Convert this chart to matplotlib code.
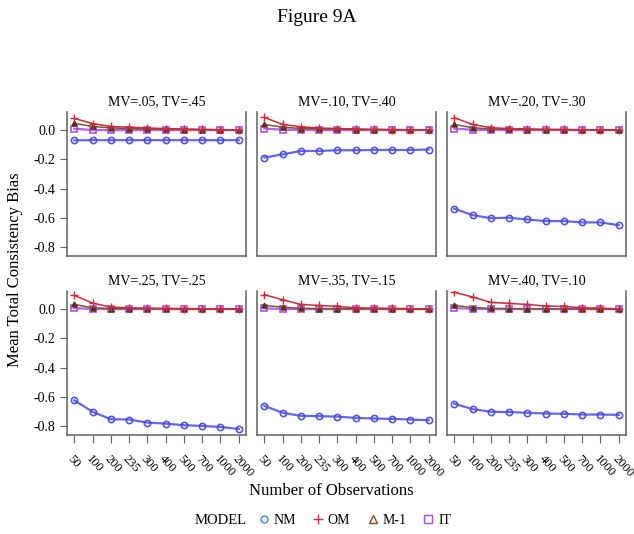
import numpy as np
import matplotlib.pyplot as plt
from matplotlib.lines import Line2D
from matplotlib.offsetbox import HPacker

plt.rcParams['font.family'] = ['Liberation Serif', 'DejaVu Serif']

obs = ["50", "100", "200", "235", "300", "400", "500", "700", "1000", "2000"]
panels = ["MV=.05, TV=.45", "MV=.10, TV=.40", "MV=.20, TV=.30",
          "MV=.25, TV=.25", "MV=.35, TV=.15", "MV=.40, TV=.10"]

nm = [
    [-0.070, -0.069, -0.069, -0.069, -0.069, -0.069, -0.069, -0.069, -0.069, -0.069],
    [-0.188, -0.166, -0.143, -0.143, -0.138, -0.138, -0.136, -0.136, -0.136, -0.133],
    [-0.538, -0.582, -0.603, -0.600, -0.612, -0.623, -0.623, -0.632, -0.632, -0.651],
    [-0.625, -0.703, -0.754, -0.756, -0.777, -0.784, -0.795, -0.800, -0.807, -0.821],
    [-0.662, -0.710, -0.731, -0.733, -0.736, -0.745, -0.749, -0.752, -0.756, -0.761],
    [-0.648, -0.685, -0.703, -0.705, -0.710, -0.715, -0.717, -0.722, -0.722, -0.724],
]
om = [
    [0.080, 0.045, 0.025, 0.020, 0.015, 0.010, 0.008, 0.005, 0.003, 0.002],
    [0.087, 0.039, 0.023, 0.014, 0.011, 0.008, 0.006, 0.004, 0.003, 0.002],
    [0.085, 0.039, 0.016, 0.011, 0.008, 0.006, 0.005, 0.003, 0.002, 0.001],
    [0.094, 0.041, 0.014, 0.009, 0.007, 0.005, 0.004, 0.003, 0.002, 0.001],
    [0.099, 0.064, 0.032, 0.025, 0.018, 0.009, 0.007, 0.005, 0.003, 0.001],
    [0.115, 0.083, 0.046, 0.039, 0.032, 0.021, 0.018, 0.009, 0.007, 0.001],
]
m1 = [
    [0.046, 0.025, 0.015, 0.010, 0.008, 0.006, 0.004, 0.003, 0.002, 0.001],
    [0.039, 0.020, 0.011, 0.008, 0.006, 0.004, 0.003, 0.002, 0.001, 0.001],
    [0.039, 0.016, 0.008, 0.006, 0.004, 0.003, 0.002, 0.002, 0.001, 0.001],
    [0.032, 0.009, 0.004, 0.003, 0.002, 0.002, 0.001, 0.001, 0.001, 0.000],
    [0.025, 0.014, 0.005, 0.004, 0.003, 0.002, 0.002, 0.001, 0.001, 0.000],
    [0.025, 0.011, 0.005, 0.004, 0.003, 0.002, 0.002, 0.001, 0.001, 0.000],
]
it = [
    [0.010, 0.000, 0.000, 0.000, 0.000, 0.000, 0.000, 0.000, 0.000, 0.000],
    [0.011, 0.002, 0.001, 0.000, 0.000, 0.000, 0.000, 0.000, 0.000, 0.000],
    [0.011, 0.002, 0.001, 0.000, 0.000, 0.000, 0.000, 0.000, 0.000, 0.000],
    [0.007, 0.001, 0.000, 0.000, 0.000, 0.000, 0.000, 0.000, 0.000, 0.000],
    [0.005, 0.001, 0.000, 0.000, 0.000, 0.000, 0.000, 0.000, 0.000, 0.000],
    [0.007, 0.002, 0.000, 0.000, 0.000, 0.000, 0.000, 0.000, 0.000, 0.000],
]

W, H = 634, 534
fig = plt.figure(figsize=(W / 100, H / 100), dpi=100)

# panel boxes in pixels
col_left = [67, 257, 447]
row_top = [112, 291]
pw, ph = 179, 144

x = np.arange(len(obs))
spine_col = "#606060"

for i in range(6):
    r, c = divmod(i, 3)
    ax = fig.add_axes([col_left[c] / W, 1 - (row_top[r] + ph) / H, pw / W, ph / H])
    ax.plot(x, nm[i], color="#5555ee", lw=1.6, marker="o", ms=4.5,
            mfc="none", mec="#4444dd", mew=1.2, alpha=0.9)
    ax.plot(x, it[i], color="#b050e8", lw=1.6, marker="s", ms=4.5,
            mfc="none", mec="#a040d8", mew=1.2, alpha=0.9)
    ax.plot(x, m1[i], color="#7a5a2a", lw=1.1, marker="^", ms=3.5,
            mfc="#5a3010", mec="#5a3010")
    ax.plot(x, om[i], color="#cc2a3a", lw=1.1, marker="+", ms=5.5, mew=1.0)
    ax.set_xlim(-0.4, 9.4)
    ax.set_ylim(-0.862, 0.124)
    ax.set_title(panels[i], fontsize=10, pad=5)
    for s in ["left", "right", "bottom"]:
        ax.spines[s].set_color(spine_col)
        ax.spines[s].set_linewidth(1.1)
    ax.spines["top"].set_visible(False)
    ax.tick_params(colors="black", labelsize=10, length=5, color=spine_col)
    if c == 0:
        ax.set_yticks([0.0, -0.2, -0.4, -0.6, -0.8])
        ax.set_yticklabels(["0.0", "-0.2", "-0.4", "-0.6", "-0.8"])
    else:
        ax.set_yticks([])
    if r == 1:
        ax.set_xticks(x)
        ax.set_xticklabels(obs, rotation=-48, ha="left", va="top",
                           rotation_mode="anchor", fontsize=9)
        ax.tick_params(axis="x", length=6, pad=7)
    else:
        ax.set_xticks([])

fig.text(0.5, 1 - 18 / H, "Figure 9A", ha="center", va="center", fontsize=14)
fig.text(15 / W, 1 - 270 / H, "Mean Total Consistency Bias", rotation=90,
         ha="center", va="center", fontsize=12)
fig.text(331 / W, 1 - 491 / H, "Number of Observations", ha="center",
         va="center", fontsize=12)

handles = [
    Line2D([], [], ls="none", marker="o", ms=5, mfc="none", mec="#3a8ee0"),
    Line2D([], [], ls="none", marker="+", ms=7, mec="#d03040"),
    Line2D([], [], ls="none", marker="^", ms=6, mfc="none", mec="#8b4a1a"),
    Line2D([], [], ls="none", marker="s", ms=6, mfc="none", mec="#a050d0"),
]
leg = fig.legend(handles, ["NM", "OM", "M-1", "IT"], title="MODEL",
                 loc="center", bbox_to_anchor=(323 / W, 1 - 520 / H), ncol=4,
                 frameon=False, fontsize=10, title_fontsize=10.5,
                 handlelength=0.8, handletextpad=0.3, columnspacing=1.2)
# put the title beside the entries rather than above them
box = leg._legend_box
box._children = [HPacker(children=box._children, align="center", pad=0, sep=8)]

fig.savefig("out.png", dpi=100)
